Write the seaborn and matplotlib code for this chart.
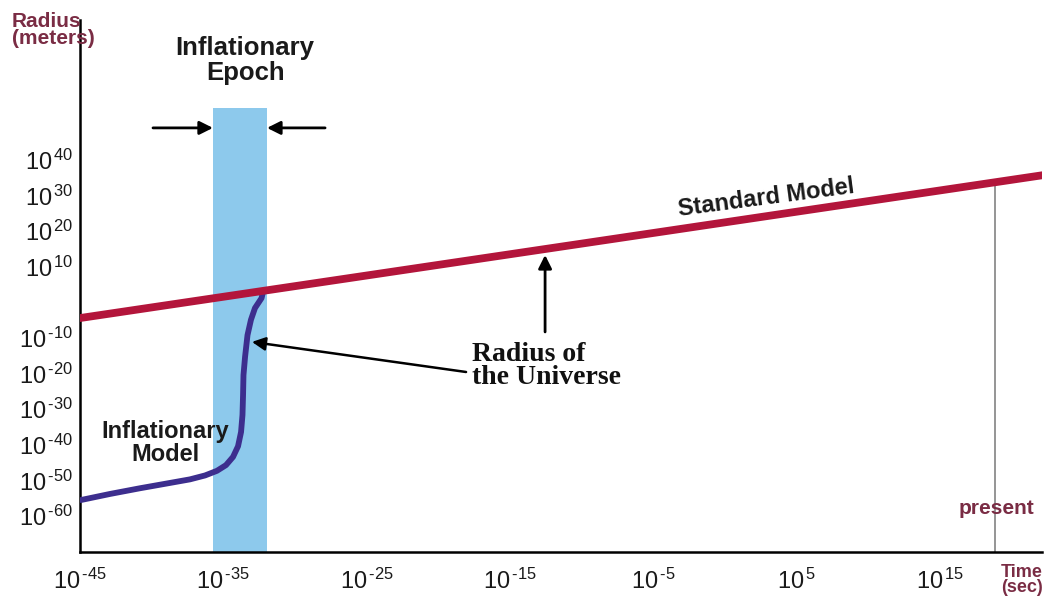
import numpy as np
import pandas as pd
import matplotlib
matplotlib.use("Agg")
import matplotlib.pyplot as plt
import seaborn as sns

# all values are log10 exponents
std_time_exp = [-45.0, 22.1]
std_radius_exp = [-4.4, 35.7]

infl_time_exp = [-44.93, -42.91, -40.82, -38.72, -37.33, -36.28, -35.45, -34.82,
                 -34.33, -33.98, -33.77, -33.67, -33.63, -33.60, -33.49, -33.32,
                 -33.08, -32.80, -32.34, -32.24]
infl_radius_exp = [-55.5, -53.8, -52.2, -50.7, -49.7, -48.6, -47.3, -45.7,
                   -43.4, -40.4, -36.4, -31.6, -26.0, -20.4, -15.3, -9.2,
                   -4.9, -1.6, 1.2, 2.9]

epoch_exp = [-35.73, -31.96]     # inflationary epoch (time)
epoch_top_exp = 54.6
present_exp = 18.8               # present time

x_tick_exp = [-45, -35, -25, -15, -5, 5, 15]
y_tick_exp = [-60, -50, -40, -30, -20, -10, 0, 10, 20, 30, 40]
y_tick_text = ['-60', '-50', '-40', '-30', '-20', '-10', None, '10', '20', '30', '40']
x_tick_text = ['-45', '-35', '-25', '-15', '-5', '5', '15']


def power_label(p):
    if p is None:
        return ''
    return r'$10^{\,' + p.replace('-', '\u2010') + '}$'


RED = '#b3153b'
NAVY = '#3d2e8e'
BAND = '#8dc9ec'
MAROON = '#7a2c44'

sns.set_style("white")
plt.rcParams['font.family'] = ['Liberation Sans', 'DejaVu Sans']
plt.rcParams['mathtext.fontset'] = 'custom'
plt.rcParams['mathtext.rm'] = 'Liberation Sans'
plt.rcParams['mathtext.it'] = 'Liberation Sans:italic'
plt.rcParams['mathtext.bf'] = 'Liberation Sans:bold'

std = pd.DataFrame({'time': 10.0 ** np.array(std_time_exp),
                    'radius': 10.0 ** np.array(std_radius_exp)})
infl = pd.DataFrame({'time': 10.0 ** np.array(infl_time_exp),
                     'radius': 10.0 ** np.array(infl_radius_exp)})

fig = plt.figure(figsize=(10.46, 6.03), dpi=100)
ax = fig.add_axes([80 / 1046, 1 - 552 / 603, 962 / 1046, 532 / 603])
ax.set_xscale('log')
ax.set_yscale('log')

# inflationary epoch band
ax.fill_between([10.0 ** epoch_exp[0], 10.0 ** epoch_exp[1]], 10.0 ** -75, 10.0 ** epoch_top_exp,
                color=BAND, lw=0, zorder=1)

# present: thin grey line from the axis up to the standard model line
slope = (std_radius_exp[1] - std_radius_exp[0]) / (std_time_exp[1] - std_time_exp[0])
present_top = std_radius_exp[0] + (present_exp - std_time_exp[0]) * slope
ax.plot([10.0 ** present_exp] * 2, [10.0 ** -75, 10.0 ** present_top],
        color='#8c8c8c', lw=1.3, zorder=2)

sns.lineplot(data=std, x='time', y='radius', ax=ax, color=RED, lw=5.6,
             estimator=None, legend=False, zorder=4)
sns.lineplot(data=infl, x='time', y='radius', ax=ax, color=NAVY, lw=4.2,
             estimator=None, legend=False, zorder=3)

ax.set_xlim(10.0 ** -45, 10.0 ** 22.08)
ax.set_ylim(10.0 ** -70.1, 10.0 ** 79.3)

ax.set_xticks([10.0 ** e for e in x_tick_exp])
ax.set_xticklabels([power_label(p) for p in x_tick_text])
ax.set_yticks([10.0 ** e for e in y_tick_exp])
ax.set_yticklabels([power_label(p) for p in y_tick_text])
ax.minorticks_off()
ax.tick_params(axis='both', direction='in', length=11, width=1.6, color='black',
               labelsize=17, labelcolor='#1a1a1a')
ax.tick_params(axis='x', pad=12)
ax.tick_params(axis='y', pad=5)
ax.set_xlabel('')
ax.set_ylabel('')
for s in ['top', 'right']:
    ax.spines[s].set_visible(False)
for s in ['left', 'bottom']:
    ax.spines[s].set_color('black')
    ax.spines[s].set_linewidth(1.8)

arrow = dict(arrowstyle='-|>', color='black', lw=2, mutation_scale=20, shrinkA=0, shrinkB=0)

# epoch arrows + label
ax.annotate('', xy=(10.0 ** -35.73, 10.0 ** 49.0), xytext=(10.0 ** -39.91, 10.0 ** 49.0), arrowprops=arrow)
ax.annotate('', xy=(10.0 ** -31.96, 10.0 ** 49.0), xytext=(10.0 ** -27.91, 10.0 ** 49.0), arrowprops=arrow)
ax.text(10.0 ** -33.49, 10.0 ** 68.0, 'Inflationary\nEpoch', ha='center', va='center',
        fontsize=18.5, fontweight='bold', color='#1a1a1a', linespacing=1.05)

ax.text(10.0 ** 2.84, 10.0 ** 29.3, 'Standard Model', ha='center', va='center', rotation=7.5,
        fontsize=17, fontweight='bold', color='#1a1a1a')

ax.text(10.0 ** -39.07, 10.0 ** -39.5, 'Inflationary\nModel', ha='center', va='center',
        fontsize=17, fontweight='bold', color='#1a1a1a', linespacing=1.0, zorder=5)

# radius of the universe
ax.annotate('', xy=(10.0 ** -12.57, 10.0 ** 13.3), xytext=(10.0 ** -12.57, 10.0 ** -8.3), arrowprops=arrow)
ax.annotate('', xy=(10.0 ** -33.01, 10.0 ** -11.1), xytext=(10.0 ** -18.08, 10.0 ** -19.55),
            arrowprops=dict(arrow, lw=1.8))
ax.text(10.0 ** -17.66, 10.0 ** -17.9, 'Radius of\nthe Universe', ha='left', va='center',
        fontsize=20, fontweight='bold', family=['Liberation Serif', 'DejaVu Serif'],
        color='#111111', linespacing=0.9)

ax.text(10.0 ** 18.9, 10.0 ** -57.75, 'present', ha='center', va='center',
        fontsize=15, fontweight='bold', color=MAROON)

fig.text(12 / 1046, 1 - 12 / 603, 'Radius\n(meters)', ha='left', va='top',
         fontsize=15, fontweight='bold', color=MAROON, linespacing=0.9)
fig.text(1022 / 1046, 1 - 580 / 603, 'Time\n(sec)', ha='center', va='center',
         fontsize=13, fontweight='bold', color=MAROON, linespacing=0.9)

fig.savefig('out.png', dpi=100, facecolor='white')
